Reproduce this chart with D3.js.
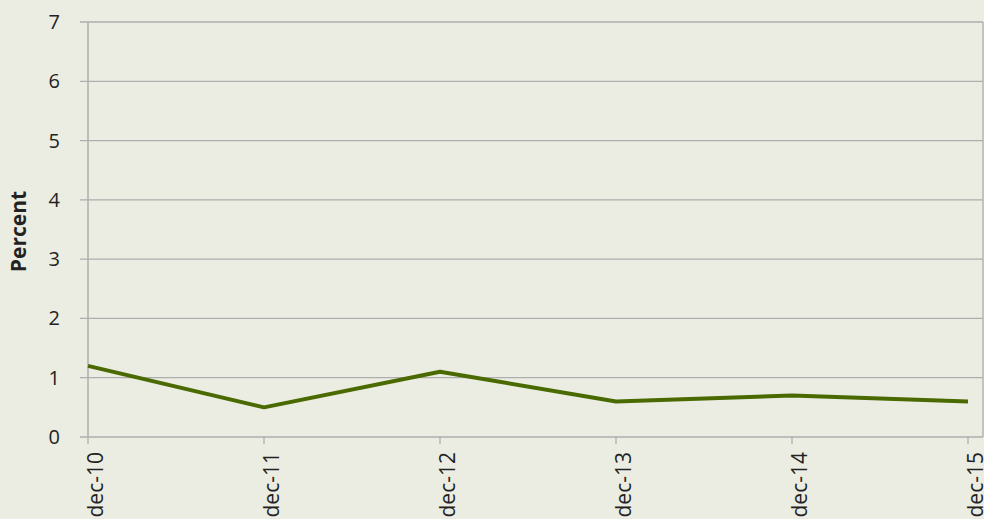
<!DOCTYPE html>
<html>
<head>
<meta charset="utf-8">
<script src="https://cdn.jsdelivr.net/npm/d3@7"></script>
<style>
  body { margin: 0; background: #ebede3; }
  text { font-family: "Open Sans", "Noto Sans", sans-serif; fill: #222; }
</style>
</head>
<body>
<script>
//chart data
var categories = ["dec-10", "dec-11", "dec-12", "dec-13", "dec-14", "dec-15"];
var values = [1.2, 0.5, 1.1, 0.6, 0.7, 0.6];
var yTicks = [0, 1, 2, 3, 4, 5, 6, 7];

window.onload = drawChart();

function drawChart(){
    var width = 984,
        height = 519;

    var svg = d3.select("body")
        .append("svg")
        .attr("width", width)
        .attr("height", height);

    svg.append("rect")
        .attr("width", width)
        .attr("height", height)
        .attr("fill", "#ebede3");

    //plot edges
    var left = 88, right = 983, top = 22, bottom = 437;

    var x = d3.scalePoint()
        .domain(categories)
        .range([left, 968]);

    var y = d3.scaleLinear()
        .domain([0, 7])
        .range([bottom, top]);

    //horizontal gridlines with tick stubs
    svg.selectAll(".grid")
        .data(yTicks)
        .enter()
        .append("line")
        .attr("class", "grid")
        .attr("x1", left - 8)
        .attr("x2", right)
        .attr("y1", function(d){ return y(d); })
        .attr("y2", function(d){ return y(d); })
        .attr("stroke", "#aeaeae")
        .attr("stroke-width", 1.3);

    //y tick labels
    svg.selectAll(".ylab")
        .data(yTicks)
        .enter()
        .append("text")
        .attr("class", "ylab")
        .attr("x", 60)
        .attr("y", function(d){ return y(d); })
        .attr("dy", "0.35em")
        .attr("text-anchor", "end")
        .style("font-size", "20px")
        .text(function(d){ return d; });

    //vertical axis and right border
    svg.append("line")
        .attr("x1", left).attr("x2", left)
        .attr("y1", top).attr("y2", bottom)
        .attr("stroke", "#aeaeae")
        .attr("stroke-width", 1.5);
    svg.append("line")
        .attr("x1", right).attr("x2", right)
        .attr("y1", top).attr("y2", bottom)
        .attr("stroke", "#aeaeae")
        .attr("stroke-width", 1.3);

    //x tick marks
    svg.selectAll(".xtick")
        .data(categories)
        .enter()
        .append("line")
        .attr("class", "xtick")
        .attr("x1", function(d){ return x(d); })
        .attr("x2", function(d){ return x(d); })
        .attr("y1", bottom)
        .attr("y2", bottom + 7)
        .attr("stroke", "#aeaeae")
        .attr("stroke-width", 1.3);

    //x labels, rotated, glyph tops sit on the tick
    svg.selectAll(".xlab")
        .data(categories)
        .enter()
        .append("text")
        .attr("class", "xlab")
        .attr("transform", function(d){
            return "translate(" + x(d) + "," + (bottom + 15) + ") rotate(-90)";
        })
        .attr("dy", "0.72em")
        .attr("text-anchor", "end")
        .style("font-size", "21px")
        .text(function(d){ return d; });

    //y axis title
    svg.append("text")
        .attr("transform", "translate(19," + ((top + bottom) / 2 + 2) + ") rotate(-90)")
        .attr("dy", "0.35em")
        .attr("text-anchor", "middle")
        .style("font-size", "21px")
        .style("font-weight", "bold")
        .text("Percent");

    //data line
    var line = d3.line()
        .x(function(d, i){ return x(categories[i]); })
        .y(function(d){ return y(d); });

    svg.append("path")
        .datum(values)
        .attr("d", line)
        .attr("fill", "none")
        .attr("stroke", "#4a6a00")
        .attr("stroke-width", 4)
        .attr("stroke-linejoin", "round");
};
</script>
</body>
</html>
